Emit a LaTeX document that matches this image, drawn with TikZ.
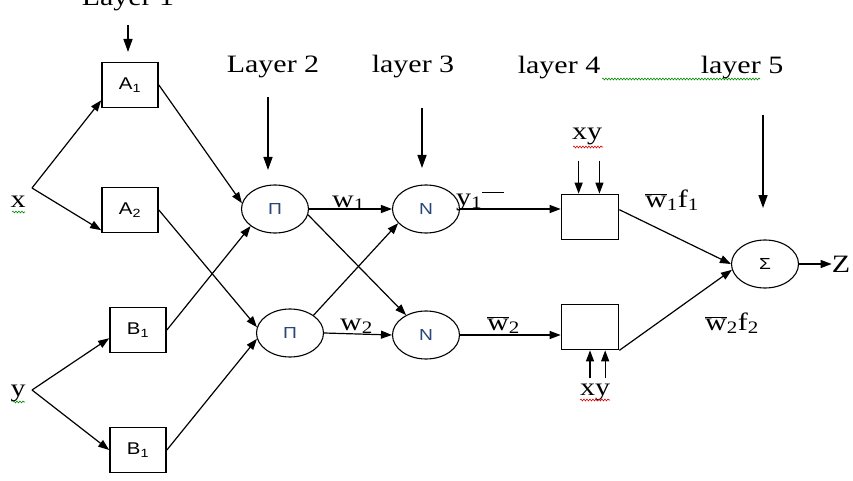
\documentclass[tikz,border=0pt]{standalone}
\usepackage{fontspec}
\setmainfont[FakeStretch=1.2]{Liberation Serif}
\newfontfamily\boxfont[FakeStretch=1.2]{Liberation Sans}
\usepackage{xcolor}
\definecolor{nodeblue}{RGB}{40,70,120}
\definecolor{spellgreen}{RGB}{0,140,0}
\definecolor{spellred}{RGB}{220,0,0}
\usetikzlibrary{arrows.meta, shapes.geometric, decorations.pathmorphing}

\begin{document}
\begin{tikzpicture}[x=1pt, y=1pt,
  mfbox/.style={draw, line width=1.7pt, minimum width=56pt, minimum height=45pt,
                inner sep=0pt, font=\boxfont\fontsize{17}{19}\selectfont},
  neuron/.style={draw, ellipse, line width=1.1pt, fill=white, minimum width=67pt,
                 minimum height=48pt, inner sep=0pt, text=nodeblue,
                 font=\boxfont\fontsize{16}{18}\selectfont},
  conn/.style={line width=1.2pt, -{Triangle[length=11pt,width=8pt]}},
  layerarr/.style={line width=1.4pt, -{Triangle[length=13pt,width=9pt]}},
  txt/.style={font=\fontsize{25}{29}\selectfont, inner sep=0pt},
  wavy/.style={decorate, decoration={snake, segment length=3pt, amplitude=0.9pt},
               line width=0.6pt}]

\useasboundingbox (0,0) rectangle (853,480);
\clip (0,0) rectangle (853,480);

% === Layer titles ===
\node[txt, anchor=base] (lay1) at (128,474) {Layer 1};
\node[txt, anchor=base] (lay2) at (273,407) {Layer 2};
\node[txt, anchor=base] (lay3) at (413,407) {layer 3};
\node[txt, anchor=base] (lay4) at (559,406) {layer 4};
\node[txt, anchor=base] (lay5) at (742,406) {layer 5};
\draw[spellgreen, wavy] (602,401) -- (760,401);

\coordinate (l1top) at (128,455);  \coordinate (l1end) at (128,428);
\coordinate (l2top) at (268,383);  \coordinate (l2end) at (268,310);
\coordinate (l3top) at (422,372);  \coordinate (l3end) at (422,312);
\coordinate (l5top) at (763,365);  \coordinate (l5end) at (763,272);
\draw[layerarr] (l1top) -- (l1end);
\draw[layerarr] (l2top) -- (l2end);
\draw[layerarr] (l3top) -- (l3end);
\draw[layerarr] (l5top) -- (l5end);

% === Inputs ===
\node[txt, anchor=base] (inx) at (18,273) {x};
\node[txt, anchor=base] (iny) at (18,84) {y};
\draw[spellgreen, wavy] (12,268) -- (25,268);
\draw[spellgreen, wavy] (13,78) -- (25,78);
\coordinate (xsplit) at (32,292);
\coordinate (ysplit) at (32,90);

% === Layer 1: membership boxes ===
\node[mfbox] (A1) at (130,395) {A\textsubscript{1}};
\node[mfbox] (A2) at (130,270) {A\textsubscript{2}};
\node[mfbox] (B1) at (138,150) {B\textsubscript{1}};
\node[mfbox] (B2) at (138,30)  {B\textsubscript{1}};

% === Layers 2 and 3: product and norm nodes ===
\node[neuron] (P1) at (275,271) {Π};
\node[neuron] (P2) at (290,147) {Π};
\node[neuron] (N1) at (426,271) {N};
\node[neuron] (N2) at (426,145) {N};

% === Layer 4 boxes and layer 5 sum ===
\node[draw, line width=1.7pt, minimum width=57pt, minimum height=45pt] (D1) at (590,263) {};
\node[draw, line width=1.7pt, minimum width=57pt, minimum height=45pt] (D2) at (590,153) {};
\node[neuron, text=black] (S) at (765,216) {Σ};
\node[txt] (out) at (841,216) {Z};

% xy inputs of layer 4
\node[txt, anchor=base] (xy1) at (587,340) {xy};
\node[txt, anchor=base] (xy2) at (595,85) {xy};
\draw[spellred, wavy] (573,333) -- (603,333);
\draw[spellred, wavy] (580,80) -- (610,80);

% === Connectors ===
\draw[conn] (xsplit) -- (A1.208);
\draw[conn] (xsplit) -- (A2.215);
\draw[conn] (ysplit) -- (B1.196);
\draw[conn] (ysplit) -- (B2.west);
\draw[conn] (A1.east) -- (P1.170);
\draw[conn] (A2.east) -- (P2.170);
\draw[conn] (B1.east) -- (P1.215);
\draw[conn] (B2.east) -- (P2.190);
\draw[conn] (P1.east) -- (N1.west);
\draw[conn] (P2.east) -- (N2.west);
\draw[conn] (P1.-10) -- (N2.135);
\draw[conn] (P2.37) -- (N1.207);
\draw[conn] (N1.east) -- (N1.east -| D1.west);
\draw[conn] (N2.east) -- (N2.east -| D2.west);
\draw[conn] ([yshift=33pt]D1.116) -- (D1.116);
\draw[conn] ([yshift=33pt]D1.68) -- (D1.68);
\draw[conn] ([yshift=-28pt]D2.270) -- (D2.270);
\draw[conn] ([yshift=-28pt]D2.303) -- (D2.303);
\draw[conn] (D1.14) -- (S.west);
\draw[conn] (D2.south east) -- (S.190);
\draw[conn] (S.east) -- (out.west);

% === Weight labels ===
\node[txt, anchor=base west] (w1) at (332,273) {w\textsubscript{1}};
\node[txt, anchor=base west] (w2) at (340,150) {w\textsubscript{2}};
\node[txt, anchor=base west] (y1) at (456,275) {y\textsubscript{1}$\overline{\hbox{\phantom{w}}}$};
\node[txt, anchor=base west] (wb2) at (487,150) {$\overline{\hbox{w}}$\textsubscript{2}};
\node[txt, anchor=base west] (wf1) at (645,273) {$\overline{\hbox{w}}$\textsubscript{1}f\textsubscript{1}};
\node[txt, anchor=base west] (wf2) at (705,150) {$\overline{\hbox{w}}$\textsubscript{2}f\textsubscript{2}};

\end{tikzpicture}
\end{document}
